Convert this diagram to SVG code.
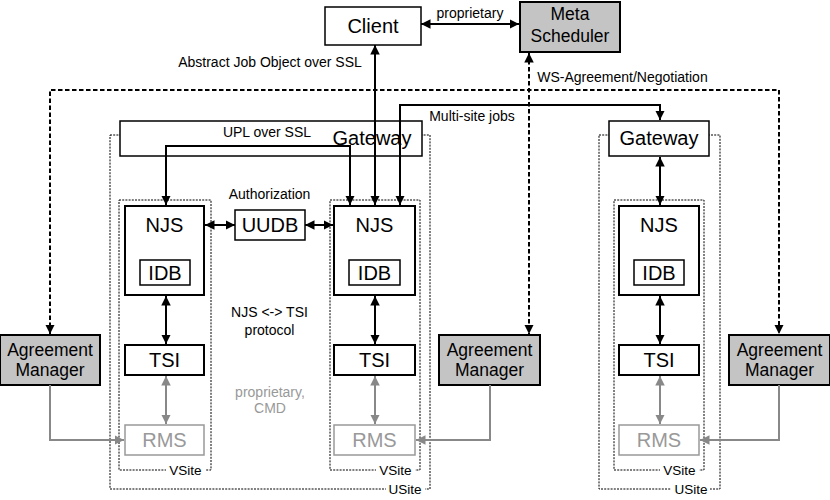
<svg xmlns="http://www.w3.org/2000/svg" width="830" height="500" viewBox="0 0 830 500">
<style>
text{font-family:"Liberation Sans",Arial,sans-serif;fill:#000;text-anchor:middle}
.big{font-size:20px}
.mid{font-size:17.5px}
.sm{font-size:14px}
.lbl{font-size:13.5px}
.box{fill:#fff;stroke:#000;stroke-width:1.5}
.thick{fill:#fff;stroke:#000;stroke-width:2}
.grey{fill:#c4c4c4;stroke:#000;stroke-width:2}
.rms{fill:#fff;stroke:#999;stroke-width:1.5}
.rmst{fill:#999}
.dot{fill:none;stroke:#000;stroke-width:1;stroke-dasharray:2,1.2}
.ln{fill:none;stroke:#000;stroke-width:2}
.dash{fill:none;stroke:#000;stroke-width:2;stroke-dasharray:4.5,2.5}
.gl{fill:none;stroke:#888;stroke-width:2}
</style>
<defs>
<marker id="a" viewBox="0 0 10 10" refX="10" refY="5" markerWidth="9.5" markerHeight="9.5" markerUnits="userSpaceOnUse" orient="auto-start-reverse"><path d="M0,0L10,5L0,10z" fill="#000"/></marker>
<marker id="g" viewBox="0 0 10 10" refX="10" refY="5" markerWidth="9.5" markerHeight="9.5" markerUnits="userSpaceOnUse" orient="auto-start-reverse"><path d="M0,0L10,5L0,10z" fill="#888"/></marker>
</defs>
<rect width="830" height="500" fill="#fff"/>

<g id="usite-left">
<rect class="dot" x="110" y="135" width="320" height="354"/>
<rect x="386" y="481" width="39" height="15" fill="#fff"/>
<text class="lbl" x="405" y="494">USite</text>
</g>
<g id="usite-right">
<rect class="dot" x="599" y="135" width="121" height="354"/>
<rect x="671" y="481" width="39" height="15" fill="#fff"/>
<text class="lbl" x="691" y="494">USite</text>
</g>
<g id="vsite-left">
<rect class="dot" x="119" y="200" width="92" height="270"/>
<rect x="166" y="462" width="39" height="15" fill="#fff"/>
<text class="lbl" x="185.5" y="475">VSite</text>
</g>
<g id="vsite-mid">
<rect class="dot" x="330" y="200" width="90" height="270"/>
<rect x="376" y="462" width="39" height="15" fill="#fff"/>
<text class="lbl" x="395.5" y="475">VSite</text>
</g>
<g id="vsite-right">
<rect class="dot" x="614" y="200" width="90" height="270"/>
<rect x="660" y="462" width="39" height="15" fill="#fff"/>
<text class="lbl" x="679.5" y="475">VSite</text>
</g>

<g id="client"><rect class="box" x="325" y="7" width="96" height="38"/><text class="big" x="373" y="33">Client</text></g>
<g id="meta"><rect class="grey" x="520" y="2" width="100" height="50"/><text class="mid" x="570" y="20">Meta</text><text class="mid" x="570" y="42">Scheduler</text></g>

<g id="gateway-left"><rect class="box" x="120" y="121" width="302" height="35"/><text class="sm" x="267" y="137">UPL over SSL</text><text class="big" x="372" y="145">Gateway</text></g>
<g id="gateway-right"><rect class="box" x="609" y="121" width="100" height="35"/><text class="big" x="659" y="145">Gateway</text></g>

<g id="njs-left"><rect class="thick" x="125" y="206" width="79" height="89"/><text class="big" x="164.5" y="232">NJS</text><rect class="box" x="140" y="260" width="50" height="25"/><text class="big" x="165" y="280">IDB</text></g>
<g id="njs-mid"><rect class="thick" x="334" y="206" width="81" height="89"/><text class="big" x="374.5" y="232">NJS</text><rect class="box" x="349" y="260" width="51" height="25"/><text class="big" x="374.5" y="280">IDB</text></g>
<g id="njs-right"><rect class="thick" x="619" y="206" width="80" height="89"/><text class="big" x="659" y="232">NJS</text><rect class="box" x="634" y="260" width="50" height="25"/><text class="big" x="659" y="280">IDB</text></g>

<g id="uudb"><rect class="box" x="235" y="210" width="70" height="30"/><text class="big" x="270" y="232">UUDB</text></g>

<g id="tsi-left"><rect class="thick" x="125" y="345" width="79" height="30"/><text class="big" x="164.5" y="367">TSI</text></g>
<g id="tsi-mid"><rect class="thick" x="334" y="345" width="81" height="30"/><text class="big" x="374.5" y="367">TSI</text></g>
<g id="tsi-right"><rect class="thick" x="619" y="345" width="80" height="30"/><text class="big" x="659" y="367">TSI</text></g>

<g id="rms-left"><rect class="rms" x="125" y="425" width="79" height="30"/><text class="big rmst" x="164.5" y="447">RMS</text></g>
<g id="rms-mid"><rect class="rms" x="334" y="425" width="81" height="30"/><text class="big rmst" x="374.5" y="447">RMS</text></g>
<g id="rms-right"><rect class="rms" x="619" y="425" width="80" height="30"/><text class="big rmst" x="659" y="447">RMS</text></g>

<g id="am-left"><rect class="grey" x="0" y="335" width="100" height="50"/><text class="mid" x="50" y="356">Agreement</text><text class="mid" x="50" y="376">Manager</text></g>
<g id="am-mid"><rect class="grey" x="439" y="335" width="101" height="50"/><text class="mid" x="489.5" y="356">Agreement</text><text class="mid" x="489.5" y="376">Manager</text></g>
<g id="am-right"><rect class="grey" x="729" y="335" width="101" height="50"/><text class="mid" x="779.5" y="356">Agreement</text><text class="mid" x="779.5" y="376">Manager</text></g>

<g id="connectors">
<line class="ln" x1="421" y1="24" x2="519" y2="24" marker-start="url(#a)" marker-end="url(#a)"/>
<line class="ln" x1="375" y1="205" x2="375" y2="45" marker-start="url(#a)" marker-end="url(#a)"/>
<polyline class="ln" points="400,205 400,105 660,105 660,120" marker-start="url(#a)" marker-end="url(#a)"/>
<polyline class="ln" points="166,205 166,146 350,146 350,205" marker-start="url(#a)" marker-end="url(#a)"/>
<line class="ln" x1="205" y1="225" x2="235" y2="225" marker-start="url(#a)" marker-end="url(#a)"/>
<line class="ln" x1="305" y1="225" x2="333" y2="225" marker-start="url(#a)" marker-end="url(#a)"/>
<line class="ln" x1="166" y1="296" x2="166" y2="344" marker-start="url(#a)" marker-end="url(#a)"/>
<line class="ln" x1="375" y1="296" x2="375" y2="344" marker-start="url(#a)" marker-end="url(#a)"/>
<line class="ln" x1="660" y1="296" x2="660" y2="344" marker-start="url(#a)" marker-end="url(#a)"/>
<line class="ln" x1="660" y1="157" x2="660" y2="205" marker-start="url(#a)" marker-end="url(#a)"/>
<line class="gl" x1="166" y1="376" x2="166" y2="424" marker-start="url(#g)" marker-end="url(#g)"/>
<line class="gl" x1="375" y1="376" x2="375" y2="424" marker-start="url(#g)" marker-end="url(#g)"/>
<line class="gl" x1="660" y1="376" x2="660" y2="424" marker-start="url(#g)" marker-end="url(#g)"/>
<line class="dash" x1="529" y1="53" x2="529" y2="334" marker-start="url(#a)" marker-end="url(#a)"/>
<polyline class="dash" points="50,334 50,90 779,90 779,334" marker-start="url(#a)" marker-end="url(#a)"/>
<polyline class="gl" points="50,385 50,440 124,440" marker-end="url(#g)"/>
<polyline class="gl" points="490,385 490,440 416,440" marker-end="url(#g)"/>
<polyline class="gl" points="779,385 779,440 700,440" marker-end="url(#g)"/>
<text class="sm" x="470" y="18">proprietary</text>
<text class="sm" x="270" y="67">Abstract Job Object over SSL</text>
<text class="sm" x="622.5" y="82">WS-Agreement/Negotiation</text>
<text class="sm" x="472" y="121">Multi-site jobs</text>
<text class="sm" x="269.5" y="199">Authorization</text>
<text class="sm" x="269.5" y="317">NJS &lt;-&gt; TSI</text>
<text class="sm" x="269.5" y="335">protocol</text>
<text class="sm" x="270" y="397" style="fill:#999">proprietary,</text>
<text class="sm" x="270" y="413" style="fill:#999">CMD</text>
</g>
</svg>
